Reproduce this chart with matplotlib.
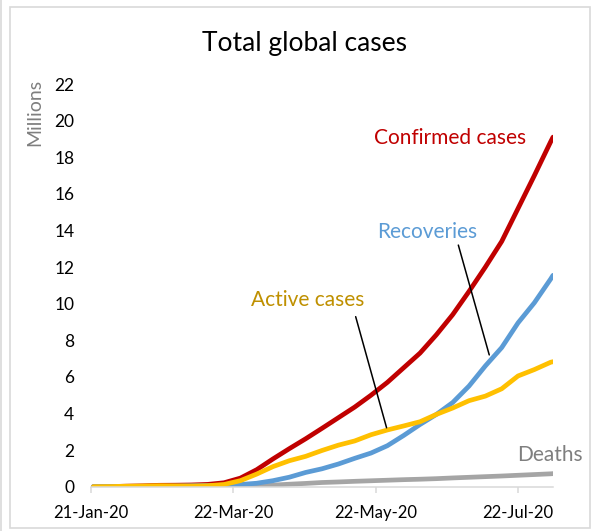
import matplotlib
matplotlib.use("Agg")
import matplotlib.pyplot as plt
import matplotlib.dates as mdates
from matplotlib.patches import Rectangle
import pandas as pd

plt.rcParams['font.family'] = ['Lato', 'DejaVu Sans']

# weekly readings (millions)
dates = pd.to_datetime([
    '2020-01-22', '2020-01-29', '2020-02-05', '2020-02-12', '2020-02-19',
    '2020-02-26', '2020-03-04', '2020-03-11', '2020-03-18', '2020-03-25',
    '2020-04-01', '2020-04-08', '2020-04-15', '2020-04-22', '2020-04-29',
    '2020-05-06', '2020-05-13', '2020-05-20', '2020-05-27', '2020-06-03',
    '2020-06-10', '2020-06-17', '2020-06-24', '2020-07-01', '2020-07-08',
    '2020-07-15', '2020-07-22', '2020-07-29', '2020-08-05', '2020-08-06'])

confirmed = [0.0006, 0.006, 0.028, 0.046, 0.076, 0.082, 0.095, 0.126, 0.215, 0.47,
             0.93, 1.52, 2.08, 2.62, 3.19, 3.77, 4.35, 5.0, 5.7, 6.5,
             7.3, 8.3, 9.4, 10.67, 12.0, 13.4, 15.2, 17.0, 18.85, 19.1]
recoveries = [0.0, 0.0001, 0.001, 0.005, 0.016, 0.031, 0.051, 0.067, 0.084, 0.12,
              0.19, 0.33, 0.52, 0.78, 0.98, 1.24, 1.55, 1.84, 2.24, 2.8,
              3.4, 3.95, 4.6, 5.5, 6.6, 7.6, 8.95, 10.05, 11.35, 11.55]
deaths = [0.0, 0.0002, 0.0006, 0.001, 0.002, 0.0028, 0.0033, 0.0045, 0.009, 0.021,
          0.047, 0.088, 0.137, 0.18, 0.23, 0.26, 0.295, 0.325, 0.355, 0.385,
          0.41, 0.44, 0.48, 0.515, 0.55, 0.585, 0.625, 0.665, 0.705, 0.715]
active = [0.0006, 0.006, 0.027, 0.04, 0.058, 0.048, 0.041, 0.055, 0.122, 0.33,
          0.69, 1.1, 1.42, 1.66, 1.98, 2.27, 2.5, 2.84, 3.1, 3.32,
          3.55, 3.95, 4.3, 4.7, 4.95, 5.35, 6.05, 6.4, 6.8, 6.83]

tick_dates = pd.to_datetime(['2020-01-21', '2020-03-22', '2020-05-22', '2020-07-22'])
yticks = list(range(0, 23, 2))

red = '#C00000'
blue = '#5B9BD5'
gold = '#FFC000'
grey = '#A5A5A5'

fig = plt.figure(figsize=(5.93, 5.31), dpi=100)
ax = fig.add_axes([0.1535, 0.0834, 0.7791, 0.7584])

lw = 3.4
ax.plot(dates, confirmed, color=red, lw=lw, solid_capstyle='round')
ax.plot(dates, deaths, color=grey, lw=lw, solid_capstyle='round')
ax.plot(dates, recoveries, color=blue, lw=lw, solid_capstyle='round')
ax.plot(dates, active, color=gold, lw=lw, solid_capstyle='round')

ax.set_xlim(pd.Timestamp('2020-01-21'), pd.Timestamp('2020-08-06'))
ax.set_ylim(0, 22)
ax.set_xticks(tick_dates)
ax.xaxis.set_major_formatter(mdates.DateFormatter('%d-%b-%y'))
ax.set_yticks(yticks)
ax.tick_params(axis='y', length=0, pad=12, labelsize=12.5, labelcolor='black')
ax.tick_params(axis='x', length=4, width=1.1, color='#D9D9D9', pad=9,
               labelsize=12, labelcolor='black')
for s in ['top', 'right', 'left']:
    ax.spines[s].set_visible(False)
ax.spines['bottom'].set_color('#D9D9D9')
ax.spines['bottom'].set_linewidth(1.1)

# labels + leader lines
ax.text(pd.Timestamp('2020-06-22 16:00'), 19.04, 'Confirmed cases', color=red,
        fontsize=15, ha='center', va='center')
ax.text(pd.Timestamp('2020-06-13'), 13.9, 'Recoveries', color=blue,
        fontsize=15, ha='center', va='center')
ax.text(pd.Timestamp('2020-04-23'), 10.2, 'Active cases', color='#BF9000',
        fontsize=15, ha='center', va='center')
ax.text(pd.Timestamp('2020-08-04 18:00'), 1.73, 'Deaths', color='#7F7F7F',
        fontsize=15, ha='center', va='center')

ax.annotate('', xy=(pd.Timestamp('2020-05-26 16:00'), 3.22),
            xytext=(pd.Timestamp('2020-05-13 10:00'), 9.29),
            arrowprops=dict(arrowstyle='-', color='black', lw=1.1, shrinkA=0, shrinkB=0))
ax.annotate('', xy=(pd.Timestamp('2020-07-09 16:00'), 7.2),
            xytext=(pd.Timestamp('2020-06-26 10:00'), 13.2),
            arrowprops=dict(arrowstyle='-', color='black', lw=1.1, shrinkA=0, shrinkB=0))

fig.text(0.514, 0.919, 'Total global cases', fontsize=19, ha='center', va='center')
fig.text(34.5 / 593, 1 - 112.5 / 531, 'Millions', rotation=90, fontsize=14,
         color='#7F7F7F', ha='center', va='center')

# chart frame
fig.patches.append(Rectangle((10 / 593, 3 / 531), 580 / 593, 521 / 531,
                             transform=fig.transFigure, fill=False,
                             edgecolor='#D9D9D9', lw=1.2))
fig.patches.append(Rectangle((0.5 / 593, 0), 0, 1, transform=fig.transFigure,
                             fill=False, edgecolor='#D9D9D9', lw=1.2))

fig.savefig('out.png', dpi=100)
